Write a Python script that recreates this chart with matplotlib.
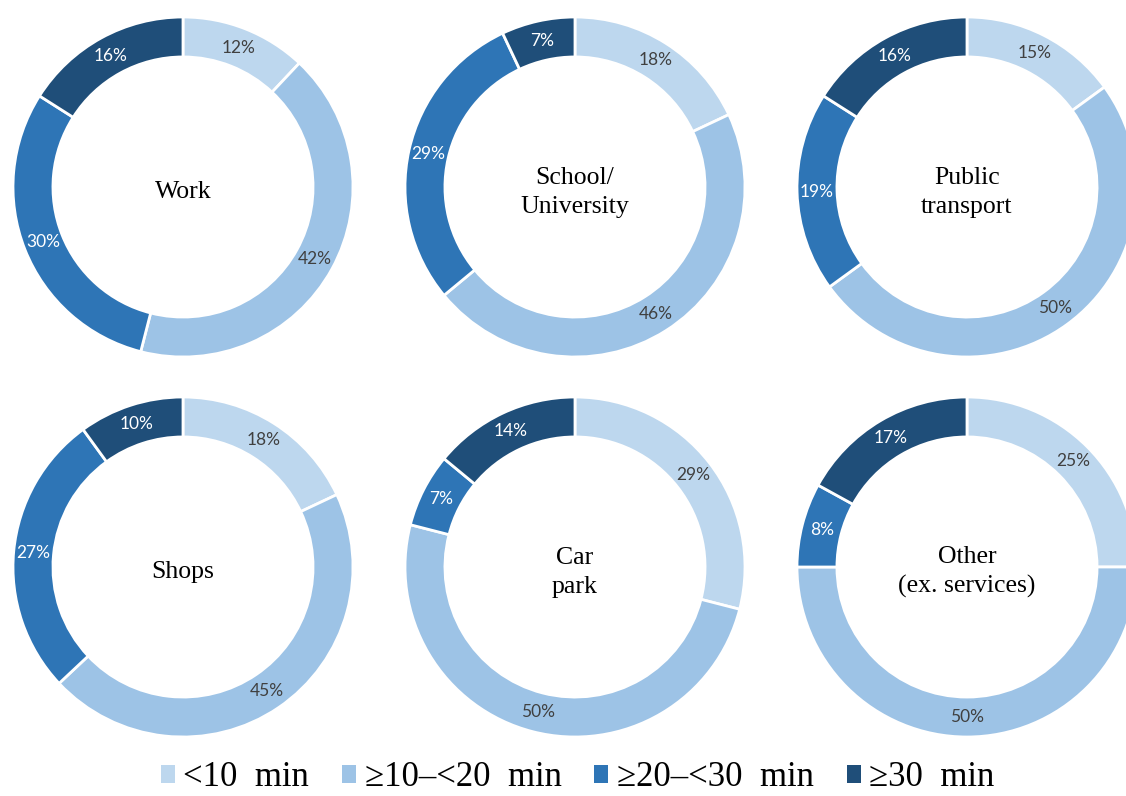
import matplotlib
matplotlib.use("Agg")
import matplotlib.pyplot as plt
from matplotlib.patches import Patch

categories = ["<10 min", "≥10–<20 min", "≥20–<30 min", "≥30 min"]
titles = ["Work", "School/\nUniversity", "Public\ntransport",
          "Shops", "Car\npark", "Other\n(ex. services)"]
work = [12, 42, 30, 16]
school = [18, 46, 29, 7]
public_transport = [15, 50, 19, 16]
shops = [18, 45, 27, 10]
car_park = [29, 50, 7, 14]
other = [25, 50, 8, 17]
series = [work, school, public_transport, shops, car_park, other]

colors = ["#BDD7EE", "#9DC3E6", "#2E75B6", "#1F4E79"]
text_colors = ["#404040", "#404040", "white", "white"]

W, H = 1126, 796
fig = plt.figure(figsize=(W / 100, H / 100), dpi=100)
fig.patch.set_facecolor("white")

R = 170
centers_x = [183, 575, 967]
centers_y = [187, 567]
ring = 0.235

for i, (vals, title) in enumerate(zip(series, titles)):
    cx = centers_x[i % 3]
    cy = centers_y[i // 3]
    ax = fig.add_axes([(cx - R) / W, 1 - (cy + R) / H, 2 * R / W, 2 * R / H])
    wedges, texts, autotexts = ax.pie(
        vals, colors=colors, startangle=90, counterclock=False, radius=1,
        wedgeprops=dict(width=ring, edgecolor="white", linewidth=2),
        autopct="%d%%", pctdistance=1 - ring / 2,
        textprops=dict(fontfamily="Lato", fontsize=12.5))
    for t, c in zip(autotexts, text_colors):
        t.set_color(c)
    ax.text(0, -0.03, title, ha="center", va="center", fontsize=18.5,
            fontfamily="Liberation Serif", linespacing=1.4)
    ax.set_xlim(-1, 1)
    ax.set_ylim(-1, 1)
    ax.set_aspect("equal")
    ax.axis("off")

handles = [Patch(facecolor=c, edgecolor="none") for c in colors]
leg = fig.legend(handles, [c.replace(" min", "  min") for c in categories],
                 loc="center", bbox_to_anchor=(0.513, 1 - 778 / H), ncol=4,
                 frameon=False, prop=dict(family="Liberation Serif", size=25),
                 handlelength=0.4, handleheight=0.4, handletextpad=0.25,
                 columnspacing=0.95)

fig.savefig("out.png", dpi=100, facecolor="white")
